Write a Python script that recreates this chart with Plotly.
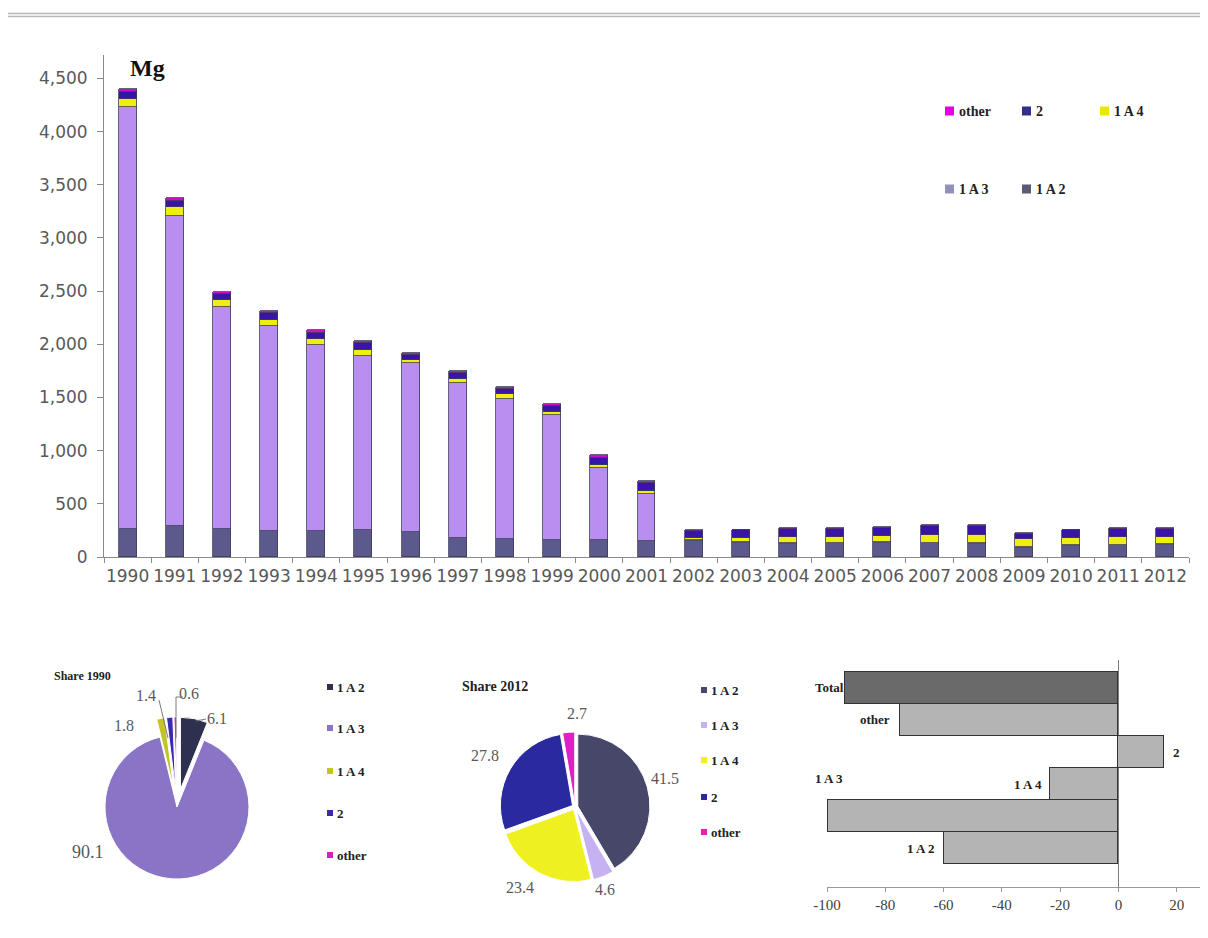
import plotly.graph_objects as go

# ---------------- data ----------------
years = ["1990", "1991", "1992", "1993", "1994", "1995", "1996", "1997", "1998", "1999",
         "2000", "2001", "2002", "2003", "2004", "2005", "2006", "2007", "2008", "2009",
         "2010", "2011", "2012"]
series_names = ["1 A 2", "1 A 3", "1 A 4", "2", "other"]
v_1a2 = [268, 290, 259, 244, 244, 253, 237, 175, 166, 159, 159, 153, 150, 134, 125, 130, 135, 130, 125, 85, 105, 110, 112]
v_1a3 = [3964, 2916, 2088, 1925, 1750, 1641, 1585, 1459, 1322, 1179, 682, 444, 10, 5, 7, 5, 5, 5, 5, 5, 5, 5, 12]
v_1a4 = [79, 87, 69, 60, 55, 55, 30, 35, 40, 30, 25, 25, 15, 40, 55, 52, 55, 75, 78, 75, 65, 70, 63]
v_2 = [62, 55, 55, 62, 60, 60, 45, 60, 55, 48, 68, 70, 70, 72, 80, 80, 80, 85, 80, 50, 75, 82, 75]
v_other = [26, 25, 23, 25, 25, 25, 19, 24, 20, 18, 22, 24, 8, 5, 8, 8, 9, 10, 9, 7, 8, 8, 7]
y_ticks = [0, 500, 1000, 1500, 2000, 2500, 3000, 3500, 4000, 4500]

share_1990 = [6.1, 90.1, 1.8, 1.4, 0.6]
share_2012 = [41.5, 4.6, 23.4, 27.8, 2.7]

change_cats = ["1 A 2", "1 A 3", "1 A 4", "2", "other", "Total"]
change_pct = [-60.0, -99.7, -23.4, 15.6, -75.1, -93.8]
change_ticks = [-100, -80, -60, -40, -20, 0, 20]

# ---------------- styling ----------------
# page body has an 8px margin; figure sized so the page fits the window
OFF = 8
W, H = 1192, 922
def X(p):
    return (p - OFF) / W
def Y(p):
    return 1 - (p - OFF) / H

bar_colors = ["#5c5a8c", "#b88ef0", "#eeee10", "#3a14a8", "#c810c8"]
pie90_colors = ["#2e3050", "#8a74c6", "#c4c42a", "#3a2ab0", "#d020c0"]
pie12_colors = ["#47476a", "#c6b2f2", "#eef020", "#2a2a9e", "#e020c0"]
legend_main_colors = {"other": "#e000e0", "2": "#30308a", "1 A 4": "#e8e800",
                      "1 A 3": "#9292b8", "1 A 2": "#5a5a72"}
serif = "Liberation Serif"
sans = "DejaVu Sans"

fig = go.Figure()

series_vals = [v_1a2, v_1a3, v_1a4, v_2, v_other]
for name, vals, col in zip(series_names, series_vals, bar_colors):
    fig.add_trace(go.Bar(x=years, y=vals, name=name, marker=dict(color=col, line=dict(color="#3c3c5a", width=0.8)),
                         width=0.38, xaxis="x", yaxis="y", showlegend=False))

fig.add_trace(go.Pie(labels=series_names, values=share_1990, sort=False, direction="clockwise", rotation=0,
                     marker=dict(colors=pie90_colors, line=dict(color="white", width=1)),
                     pull=[0.25, 0, 0.25, 0.25, 0.25], textinfo="none",
                     domain=dict(x=[X(87), X(267)], y=[Y(897), Y(717)]), showlegend=False))
fig.add_trace(go.Pie(labels=series_names, values=share_2012, sort=False, direction="clockwise", rotation=0,
                     marker=dict(colors=pie12_colors, line=dict(color="white", width=1)),
                     pull=[0.04, 0.04, 0.04, 0.04, 0.04], textinfo="none",
                     domain=dict(x=[X(500), X(650)], y=[Y(882), Y(732)]), showlegend=False))

hcolors = ["#b4b4b4"] * 5 + ["#6a6a6a"]
fig.add_trace(go.Bar(x=change_pct, y=change_cats, orientation="h", width=0.98,
                     marker=dict(color=hcolors, line=dict(color="#333333", width=1)),
                     xaxis="x2", yaxis="y2", showlegend=False))

annotations = []
shapes = []

# Mg label
annotations.append(dict(x=X(128), y=Y(68), xref="paper", yref="paper", text="<b>Mg</b>", showarrow=False,
                        xanchor="left", yanchor="middle", font=dict(family=serif, size=24, color="#111")))

# main legend
main_leg = [("other", 945, 111), ("2", 1022, 111), ("1 A 4", 1100, 111), ("1 A 3", 945, 189), ("1 A 2", 1022, 189)]
for name, lx, ly in main_leg:
    shapes.append(dict(type="rect", xref="paper", yref="paper", x0=X(lx), x1=X(lx + 9), y0=Y(ly + 4.5), y1=Y(ly - 4.5),
                       fillcolor=legend_main_colors[name], line=dict(width=0)))
    annotations.append(dict(x=X(lx + 12), y=Y(ly), xref="paper", yref="paper", text="<b>%s</b>" % name,
                            showarrow=False, xanchor="left", yanchor="middle",
                            font=dict(family=serif, size=14, color="#222")))

# pie titles
annotations.append(dict(x=X(52), y=Y(676), xref="paper", yref="paper", text="<b>Share 1990</b>", showarrow=False,
                        xanchor="left", yanchor="middle", font=dict(family=serif, size=12, color="#222")))
annotations.append(dict(x=X(460), y=Y(686), xref="paper", yref="paper", text="<b>Share 2012</b>", showarrow=False,
                        xanchor="left", yanchor="middle", font=dict(family=serif, size=14, color="#222")))

# pie legends
leg90_rows = [687, 728, 771, 813, 855]
leg12_rows = [690, 725, 760, 797, 832]
for rows, lx, cols in [(leg90_rows, 327, pie90_colors), (leg12_rows, 701, pie12_colors)]:
    for name, ly, col in zip(series_names, rows, cols):
        shapes.append(dict(type="rect", xref="paper", yref="paper", x0=X(lx), x1=X(lx + 6), y0=Y(ly + 3), y1=Y(ly - 3),
                           fillcolor=col, line=dict(width=0)))
        annotations.append(dict(x=X(lx + 8), y=Y(ly), xref="paper", yref="paper", text="<b>%s</b>" % name,
                                showarrow=False, xanchor="left", yanchor="middle",
                                font=dict(family=serif, size=13, color="#222")))

# pie value labels
lab90_pos = [(217, 718, 16), (88, 852, 18), (124, 725, 16), (146, 695, 16), (189, 693, 16)]
for v, (lx, ly, fs) in zip(share_1990, lab90_pos):
    annotations.append(dict(x=X(lx), y=Y(ly), xref="paper", yref="paper", text="%.1f" % v, showarrow=False,
                            xanchor="center", yanchor="middle", font=dict(family=serif, size=fs, color="#595959")))
lab12_pos = [(665, 778), (605, 889), (520, 887), (485, 755), (577, 713)]
for v, (lx, ly) in zip(share_2012, lab12_pos):
    annotations.append(dict(x=X(lx), y=Y(ly), xref="paper", yref="paper", text="%.1f" % v, showarrow=False,
                            xanchor="center", yanchor="middle", font=dict(family=serif, size=16, color="#595959")))
# leader lines for 1990 pie
for (x0, y0, x1, y1) in [(159, 700, 168, 738), (183, 697, 176, 697), (176, 697, 176, 738), (196, 721, 206, 719)]:
    shapes.append(dict(type="line", xref="paper", yref="paper", x0=X(x0), y0=Y(y0), x1=X(x1), y1=Y(y1),
                       line=dict(color="#7a7a7a", width=1)))

# change bar labels (y given as category index)
lab_cfg = {"1 A 2": dict(xanchor="right", xshift=-8, yshift=0),
           "1 A 3": dict(xanchor="left", xshift=-14, yshift=38),
           "1 A 4": dict(xanchor="right", xshift=-6, yshift=0),
           "2": dict(xanchor="left", xshift=7, yshift=0),
           "other": dict(xanchor="right", xshift=-8, yshift=0),
           "Total": dict(xanchor="right", xshift=1, yshift=0)}
for i, (c, v) in enumerate(zip(change_cats, change_pct)):
    cfg = lab_cfg[c]
    annotations.append(dict(x=v if c != "1 A 3" else -100, y=i, xref="x2", yref="y2", text="<b>%s</b>" % c,
                            showarrow=False, xanchor=cfg["xanchor"], yanchor="middle", xshift=cfg["xshift"],
                            yshift=cfg["yshift"], font=dict(family=serif, size=13, color="#222")))

# top double rule
for yy in (13.5, 16.5):
    shapes.append(dict(type="line", xref="paper", yref="paper", x0=X(8), x1=1, y0=Y(yy), y1=Y(yy),
                       line=dict(color="#b8b8b8", width=1.6)))

fig.update_layout(
    width=W, height=H, margin=dict(l=0, r=0, t=0, b=0, pad=0, autoexpand=False),
    paper_bgcolor="white", plot_bgcolor="white", barmode="stack", bargap=0, showlegend=False,
    xaxis=dict(domain=[X(104), X(1189)], type="category", showline=True, linecolor="#8a8a8a", linewidth=1,
               ticks="outside", tickson="boundaries", ticklen=5, tickcolor="#8a8a8a", showgrid=False,
               tickangle=0, automargin=False,
               tickfont=dict(family=sans, size=17, color="#595959"), ticklabelstandoff=4, anchor="y"),
    yaxis=dict(domain=[Y(557), Y(55)], range=[0, 4720], tickvals=y_ticks, tickformat=",", showline=True,
               linecolor="#8a8a8a", linewidth=1, ticks="outside", ticklen=6, tickcolor="#8a8a8a", showgrid=False,
               zeroline=False, tickfont=dict(family=sans, size=17, color="#595959"), ticklabelstandoff=6,
               automargin=False, anchor="x"),
    xaxis2=dict(domain=[X(827), X(1200)], range=[-100, 28], tickvals=change_ticks,
                ticktext=[str(t) for t in change_ticks], showline=True,
                linecolor="#9a9a9a", linewidth=1, ticks="outside", ticklen=4, tickcolor="#9a9a9a", showgrid=False,
                zeroline=True, zerolinecolor="#808080", zerolinewidth=1, automargin=False,
                tickfont=dict(family=serif, size=15, color="#404040"), anchor="y2"),
    yaxis2=dict(domain=[Y(887), Y(660)], type="category", categoryorder="array", categoryarray=change_cats,
                range=[-1.21, 5.87], showticklabels=False, showline=False, showgrid=False, zeroline=False,
                ticks="", automargin=False, anchor="x2"),
    annotations=annotations, shapes=shapes,
)

fig.write_html("out.html")
